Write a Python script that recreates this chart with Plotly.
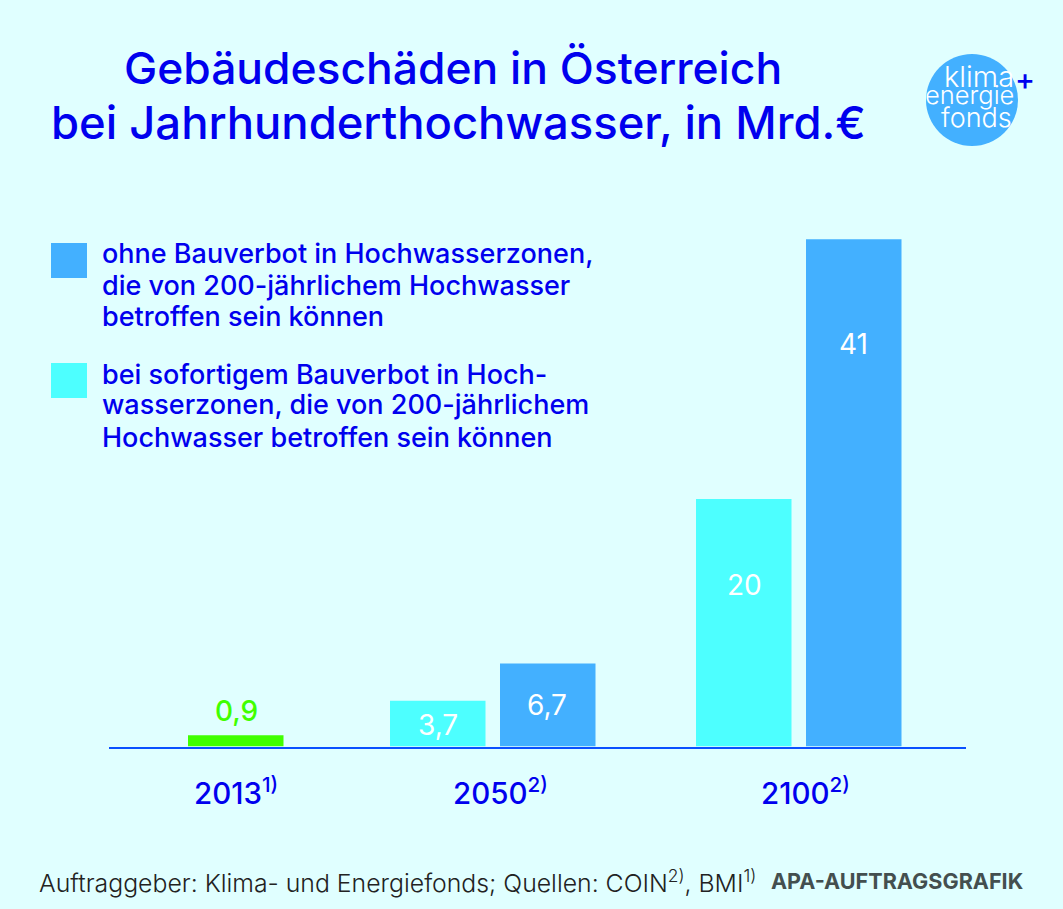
import plotly.graph_objects as go

W, H = 1063, 909
BG = "#e0ffff"; BLUE = "#43b0ff"; CYAN = "#4dffff"; GREEN = "#40ff00"; INK = "#0000ee"; AXIS = "#0a50ff"
FONT = "Inter"

categories = ["2013", "2050", "2100"]
tick_labels = ["2013<sup>1)</sup>", "2050<sup>2)</sup>", "2100<sup>2)</sup>"]
green_cats = ["2013"]; green_vals = [0.9]; green_text = ["0,9"]
cyan_cats = ["2050", "2100"]; cyan_vals = [3.7, 20]; cyan_text = ["3,7", "20"]
blue_cats = ["2050", "2100"]; blue_vals = [6.7, 41]; blue_text = ["6,7", "41"]
title_lines = ["Gebäudeschäden in Österreich", "bei Jahrhunderthochwasser, in Mrd.€"]
legend_blue = ["ohne Bauverbot in Hochwasserzonen,", "die von 200-jährlichem Hochwasser", "betroffen sein können"]
legend_cyan = ["bei sofortigem Bauverbot in Hoch-", "wasserzonen, die von 200-jährlichem", "Hochwasser betroffen sein können"]
source = "Auftraggeber: Klima- und Energiefonds; Quellen: COIN<sup>2)</sup>, BMI<sup>1)</sup>"
credit = "APA-AUFTRAGSGRAFIK"

# layout geometry (pixels)
AX_L, AX_R, BASE = 109, 966, 746.5
PX_PER_VAL = 12.37
STEP = 281.0            # pixels per category
CAT1_PX = 493.0         # pixel of the middle category
BAR_W = 95.5 / STEP
def off(px): return px / STEP

fig = go.Figure()
fig.add_bar(x=green_cats, y=green_vals, marker_color=GREEN, marker_line_width=0, width=BAR_W, offset=[off(-24)], hoverinfo="skip")
fig.add_bar(x=cyan_cats, y=cyan_vals, marker_color=CYAN, marker_line_width=0, width=BAR_W, offset=[off(-103), off(-78)], hoverinfo="skip")
fig.add_bar(x=blue_cats, y=blue_vals, marker_color=BLUE, marker_line_width=0, width=BAR_W, offset=[off(7), off(32)], hoverinfo="skip")

ann = []
def page(text, x, y, size, color=INK, anchor="left", weight=400):
    ann.append(dict(text=text, x=x / W, y=1 - y / H, xref="paper", yref="paper", xanchor=anchor, yanchor="middle",
                    showarrow=False, font=dict(family=FONT, size=size, color=color, weight=weight)))
def val(text, cat, v, dx, dy, color="white", weight=400):
    ann.append(dict(text=text, x=categories.index(cat), y=v, xref="x", yref="y", xshift=dx, yshift=dy, showarrow=False,
                    font=dict(family=FONT, size=28, color=color, weight=weight)))

page(title_lines[0], 453, 68, 44.4, anchor="center", weight=500)
page(title_lines[1], 458, 122, 45.4, anchor="center", weight=500)
for line, y in zip(legend_blue, (254, 285, 316)):
    page(line, 100, y, 27, weight=500)
for line, y in zip(legend_cyan, (374, 405, 437)):
    page(line, 100, y, 27, weight=500)

val(green_text[0], green_cats[0], green_vals[0], 24, 24, GREEN, 500)
val(cyan_text[0], cyan_cats[0], cyan_vals[0], -55, -24)
val(cyan_text[1], cyan_cats[1], cyan_vals[1], -30, -86)
val(blue_text[0], blue_cats[0], blue_vals[0], 54, -41)
val(blue_text[1], blue_cats[1], blue_vals[1], 79, -105)

for i, (t, dx) in enumerate(zip(tick_labels, (24, 7, 31))):
    ann.append(dict(text=t, x=i, y=0, xref="x", yref="y", xshift=dx, yshift=-45, showarrow=False,
                    font=dict(family=FONT, size=29.5, color=INK, weight=500)))

page(source, 37, 881, 24.8, color="#222222", weight=300)
page(credit, 1025, 881, 21.6, color="#444f4f", anchor="right", weight=700)

# logo
page("klima", 1016, 77, 29, color="white", anchor="right", weight=300)
page("energie", 1016, 95, 25.5, color="white", anchor="right", weight=300)
page("fonds", 1014, 118, 27, color="white", anchor="right", weight=300)
page("+", 1025, 79, 30, anchor="center", weight=500)

def rect(x0, y0, x1, y1, color):
    return dict(type="rect", xref="paper", yref="paper", x0=x0 / W, x1=x1 / W, y0=1 - y0 / H, y1=1 - y1 / H,
                fillcolor=color, line_width=0, layer="below")
shapes = [rect(51, 243, 87, 278, BLUE), rect(51, 363, 87, 398, CYAN),
          dict(type="circle", xref="paper", yref="paper", x0=926 / W, x1=1018 / W, y0=1 - 146 / H, y1=1 - 54 / H,
               fillcolor=BLUE, line_width=0, layer="below")]

fig.update_layout(
    width=W, height=H, margin=dict(l=0, r=0, t=0, b=0), paper_bgcolor=BG, plot_bgcolor="rgba(0,0,0,0)",
    showlegend=False, annotations=ann, shapes=shapes, barmode="overlay",
    xaxis=dict(domain=[AX_L / W, AX_R / W], type="category", categoryorder="array", categoryarray=categories,
               range=[1 - (CAT1_PX - AX_L) / STEP, 1 + (AX_R - CAT1_PX) / STEP],
               showline=True, linecolor=AXIS, linewidth=1.5, showticklabels=False, ticks="", showgrid=False, zeroline=False, fixedrange=True),
    yaxis=dict(domain=[1 - BASE / H, 1], range=[0, BASE / PX_PER_VAL], visible=False, fixedrange=True),
)
fig.write_html("out.html", config={"displayModeBar": False},
               post_script=f"document.body.style.margin='0';document.body.style.background='{BG}';")
